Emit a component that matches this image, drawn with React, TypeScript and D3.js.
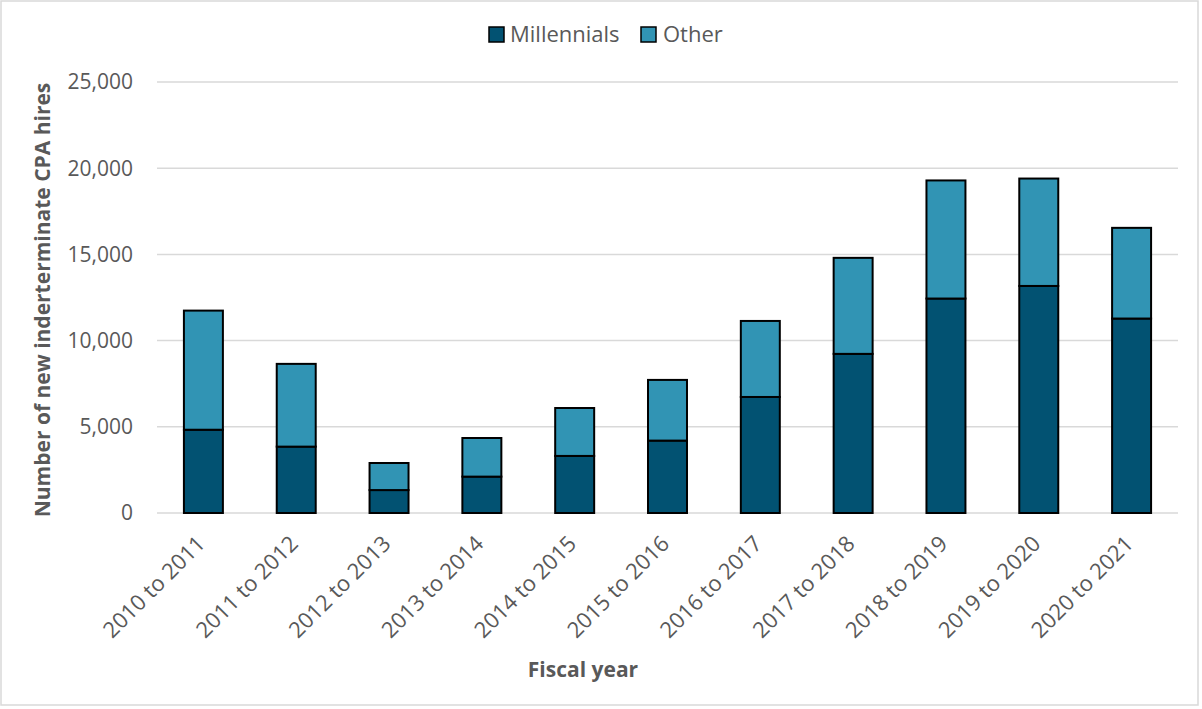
import React from "react";
import * as d3 from "d3";

const categories = [
  "2010 to 2011",
  "2011 to 2012",
  "2012 to 2013",
  "2013 to 2014",
  "2014 to 2015",
  "2015 to 2016",
  "2016 to 2017",
  "2017 to 2018",
  "2018 to 2019",
  "2019 to 2020",
  "2020 to 2021",
];
const millennials = [4830, 3850, 1330, 2110, 3310, 4200, 6730, 9230, 12440, 13170, 11280];
const other = [6910, 4800, 1570, 2240, 2780, 3520, 4410, 5570, 6850, 6230, 5260];
const seriesNames = ["Millennials", "Other"];
const yTicks = [0, 5000, 10000, 15000, 20000, 25000];

const colors: Record<string, string> = { Millennials: "#025272", Other: "#3194B4" };
const textColor = "#595959";
const font = "'Segoe UI', 'Open Sans', sans-serif";

const W = 1202;
const H = 709;
const margin = { top: 82, right: 24, bottom: 196, left: 157 };

export default function App() {
  const rows = categories.map((c, i) => ({ cat: c, Millennials: millennials[i], Other: other[i] }));
  const stacked = d3.stack<any>().keys(seriesNames)(rows);

  const x = d3
    .scaleBand()
    .domain(categories)
    .range([margin.left, W - margin.right])
    .paddingInner(0.58)
    .paddingOuter(0.29);
  const y = d3
    .scaleLinear()
    .domain([0, 25000])
    .range([H - margin.bottom, margin.top]);

  const fmt = d3.format(",");

  return (
    <>
      <style>{`body{margin:0}`}</style>
      <svg width={W} height={H} style={{ display: "block", fontFamily: font }}>
        <rect x={0} y={0} width={W} height={H} fill="#fff" />
        <rect x={1} y={1} width={1197} height={704} fill="none" stroke="#d9d9d9" strokeWidth={1.5} />

        {/* gridlines + y labels */}
        {yTicks.map((t) => (
          <g key={t}>
            <line
              x1={margin.left}
              x2={W - margin.right}
              y1={y(t)}
              y2={y(t)}
              stroke="#d9d9d9"
              strokeWidth={1.5}
            />
            <text
              x={133}
              y={y(t)}
              dy="0.35em"
              textAnchor="end"
              fontSize={21}
              fill={textColor}
            >
              {fmt(t)}
            </text>
          </g>
        ))}

        {/* bars */}
        {stacked.map((s) => (
          <g key={s.key} fill={colors[s.key]}>
            {s.map((d, i) => (
              <rect
                key={i}
                x={x(categories[i])}
                y={y(d[1])}
                width={x.bandwidth()}
                height={y(d[0]) - y(d[1])}
                stroke="#000"
                strokeWidth={2}
              />
            ))}
          </g>
        ))}

        {/* x labels */}
        {categories.map((c) => {
          const cx = (x(c) ?? 0) + x.bandwidth() / 2;
          return (
            <text
              key={c}
              transform={`translate(${cx - 8},${534}) rotate(-45)`}
              dy="0.71em"
              textAnchor="end"
              fontSize={22}
              fill={textColor}
            >
              {c}
            </text>
          );
        })}

        {/* axis titles */}
        <text
          x={583}
          y={677}
          textAnchor="middle"
          fontSize={21}
          fontWeight="bold"
          fill={textColor}
        >
          Fiscal year
        </text>
        <text
          transform={`translate(50,300) rotate(-90)`}
          textAnchor="middle"
          fontSize={21}
          fontWeight="bold"
          fill={textColor}
        >
          Number of new inderterminate CPA hires
        </text>

        {/* legend */}
        <g>
          <rect x={489} y={27} width={15} height={15} fill={colors.Millennials} stroke="#000" strokeWidth={1.5} />
          <text x={510} y={42} fontSize={22} fill={textColor}>
            Millennials
          </text>
          <rect x={641} y={27} width={15} height={15} fill={colors.Other} stroke="#000" strokeWidth={1.5} />
          <text x={663} y={42} fontSize={22} fill={textColor}>
            Other
          </text>
        </g>
      </svg>
    </>
  );
}
